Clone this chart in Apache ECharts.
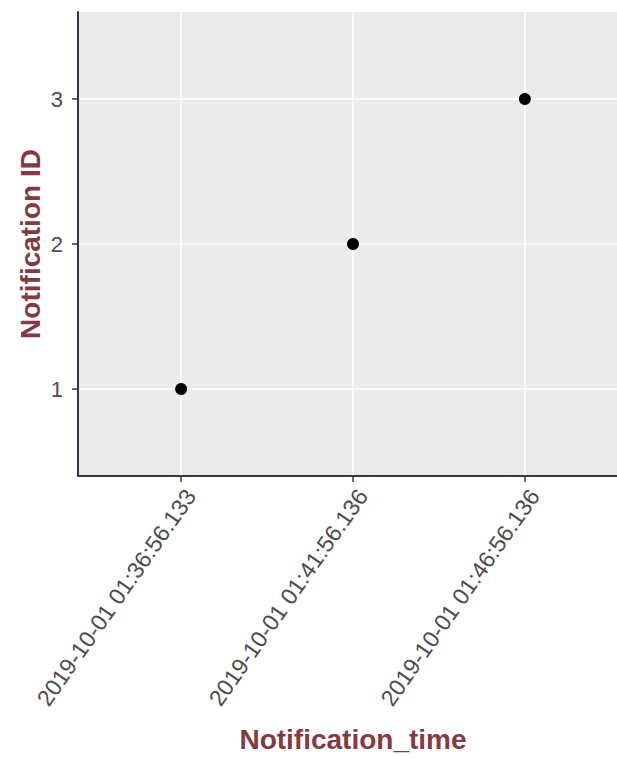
<!DOCTYPE html>
<html>
<head>
<meta charset="utf-8">
<script src="https://cdn.jsdelivr.net/npm/echarts@6/dist/echarts.min.js"></script>
<style>
  html, body { margin: 0; padding: 0; background: #ffffff; }
  #chart { width: 617px; height: 758px; }
</style>
</head>
<body>
<div id="chart"></div>
<script>
// Data
const notificationTimes = [
  '2019-10-01 01:36:56.133',
  '2019-10-01 01:41:56.136',
  '2019-10-01 01:46:56.136'
];
const notificationIds = [1, 2, 3];
const xTickPositions = [0, 1, 2];   // discrete positions of the time categories
const yTickLabels = [1, 2, 3];

const points = notificationTimes.map((t, i) => [xTickPositions[i], notificationIds[i]]);

const chart = echarts.init(document.getElementById('chart'), null, { renderer: 'svg' });

const axisColor = '#33334a';
const font = "'Liberation Sans', Arial, sans-serif";

chart.setOption({
  animation: false,
  grid: {
    left: 78, right: -11, top: 12, bottom: 282,
    show: true, backgroundColor: '#EBEBEB', borderWidth: 0,
    containLabel: false, outerBoundsMode: 'none'
  },
  xAxis: {
    type: 'value',
    min: -0.6, max: 2.6,
    name: 'Notification_time',
    nameLocation: 'middle',
    nameGap: 249,
    nameMoveOverlap: false,
    nameTextStyle: { fontFamily: font, fontSize: 28, fontWeight: 'bold', color: '#833A45' },
    axisLine: { show: true, onZero: false, lineStyle: { color: axisColor, width: 2 } },
    axisTick: { show: true, length: 6, customValues: xTickPositions, lineStyle: { color: axisColor, width: 1.5 } },
    axisLabel: {
      customValues: xTickPositions,
      formatter: v => notificationTimes[Math.round(v)],
      rotate: 55,
      margin: 9,
      verticalAlign: 'top',
      fontFamily: font, fontSize: 23, color: '#4D4D4D',
      showMinLabel: true, showMaxLabel: true, hideOverlap: false
    },
    splitLine: { show: true, lineStyle: { color: '#FFFFFF', width: 1.5 } },
    minorSplitLine: { show: false }
  },
  yAxis: {
    type: 'value',
    min: 0.4, max: 3.6,
    name: 'Notification ID',
    nameLocation: 'middle',
    nameGap: 34,
    nameMoveOverlap: false,
    nameTextStyle: { fontFamily: font, fontSize: 28, fontWeight: 'bold', color: '#833A45' },
    axisLine: { show: true, onZero: false, lineStyle: { color: axisColor, width: 2 } },
    axisTick: { show: true, length: 6, customValues: yTickLabels, lineStyle: { color: axisColor, width: 1.5 } },
    axisLabel: {
      customValues: yTickLabels,
      margin: 15,
      fontFamily: font, fontSize: 22, color: '#4D4D4D',
      showMinLabel: true, showMaxLabel: true
    },
    splitLine: { show: true, lineStyle: { color: '#FFFFFF', width: 1.5 } }
  },
  series: [{
    type: 'scatter',
    data: points,
    symbol: 'circle',
    symbolSize: 12,
    itemStyle: { color: '#000000', opacity: 1 },
    silent: true
  }]
});
</script>
</body>
</html>
